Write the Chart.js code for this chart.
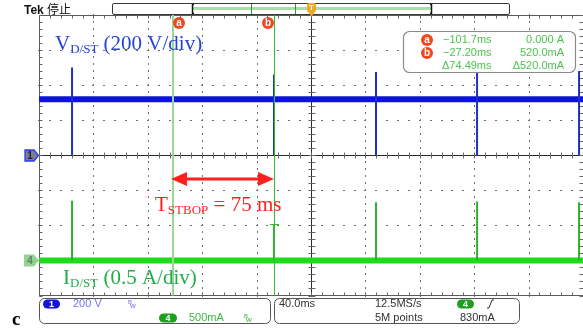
<!DOCTYPE html>
<html>
<head>
<meta charset="utf-8">
<script src="https://cdn.jsdelivr.net/npm/chart.js@4"></script>
<style>
  body { margin: 0; background: #fff; overflow: hidden; }
  canvas { display: block; }
</style>
</head>
<body>
<canvas id="scope" width="583" height="328"></canvas>
<script>
// times in ms (40 ms/div), voltage in V (200 V/div), current in A (0.5 A/div)
const spikeTimes = [-175.7, -27.2, 47.8, 122.1, 197.1];
const vdsLevel = 320;
const vdsPeaks = [500, 460, 475, 470, 480];
const idsLevel = 0;
const idsPeaks = [0.85, 0.52, 0.83, 0.84, 0.83];

const cursorTimes = [-101.7, -27.2];
const cursorAmps = [0.0, 0.52];
const readoutTimes = ['\u2212101.7ms', '\u221227.20ms', '\u039474.49ms'];
const readoutAmps = ['0.000 A', '520.0mA', '\u0394520.0mA'];

const xTicks = [-200, -160, -120, -80, -40, 0, 40, 80, 120, 160, 200];
const vTicks = [-800, -600, -400, -200, 0, 200, 400, 600, 800];

// spike segments, broken with null so each one is its own vertical line
const vdsSpikes = [];
spikeTimes.forEach((t, i) => {
  vdsSpikes.push({x: t, y: vdsPeaks[i]}, {x: t, y: 0}, {x: t, y: null});
});
const idsSpikes = [];
spikeTimes.forEach((t, i) => {
  idsSpikes.push({x: t, y: idsLevel}, {x: t, y: idsPeaks[i]}, {x: t, y: null});
});

function rrect(ctx, x, y, w, h, r) {
  ctx.beginPath();
  ctx.moveTo(x + r, y);
  ctx.lineTo(x + w - r, y);
  ctx.arcTo(x + w, y, x + w, y + r, r);
  ctx.lineTo(x + w, y + h - r);
  ctx.arcTo(x + w, y + h, x + w - r, y + h, r);
  ctx.lineTo(x + r, y + h);
  ctx.arcTo(x, y + h, x, y + h - r, r);
  ctx.lineTo(x, y + r);
  ctx.arcTo(x, y, x + r, y, r);
  ctx.closePath();
}

function subText(ctx, x, y, main, sub, rest, size, subSize, color) {
  ctx.fillStyle = color;
  ctx.textAlign = 'left';
  ctx.textBaseline = 'alphabetic';
  ctx.font = size + 'px "Liberation Serif"';
  ctx.fillText(main, x, y);
  x += ctx.measureText(main).width;
  ctx.font = subSize + 'px "Liberation Serif"';
  ctx.fillText(sub, x, y + 3);
  x += ctx.measureText(sub).width;
  ctx.font = size + 'px "Liberation Serif"';
  ctx.fillText(rest, x, y);
}

function circleLabel(ctx, x, y, ch) {
  ctx.fillStyle = '#f0471c';
  ctx.beginPath();
  ctx.arc(x, y, 6, 0, Math.PI * 2);
  ctx.fill();
  ctx.fillStyle = '#fff';
  ctx.font = 'bold 10px "Liberation Sans"';
  ctx.textAlign = 'center';
  ctx.textBaseline = 'middle';
  ctx.fillText(ch, x, y + 0.5);
}

function pill(ctx, x, y, w, color, ch) {
  ctx.fillStyle = color;
  rrect(ctx, x, y - 4.5, w, 9, 4.5);
  ctx.fill();
  ctx.fillStyle = '#fff';
  ctx.font = 'bold 9px "Liberation Sans"';
  ctx.textAlign = 'center';
  ctx.textBaseline = 'middle';
  ctx.fillText(ch, x + w / 2, y + 0.5);
}

function bwIcon(ctx, x, y, color) {
  ctx.fillStyle = color;
  ctx.textAlign = 'left';
  ctx.textBaseline = 'alphabetic';
  ctx.font = '6px "Liberation Sans"';
  ctx.fillText('B', x, y - 1);
  ctx.font = '8px "Liberation Sans"';
  ctx.fillText('w', x + 2, y + 3);
}

const scopeGrid = {
  id: 'scopeGrid',
  beforeDatasetsDraw(chart) {
    const ctx = chart.ctx;
    const xs = chart.scales.x, ys = chart.scales.y;
    const a = chart.chartArea;
    ctx.save();
    // dotted division lines
    ctx.fillStyle = '#6f6f6f';
    xTicks.forEach(t => {
      if (t === 0 || t === -200 || t === 200) return;
      const px = Math.round(xs.getPixelForValue(t));
      for (let v = -800; v <= 800; v += 40) {
        const py = Math.round(ys.getPixelForValue(v));
        ctx.fillRect(px, py - 1, 1, 2);
      }
    });
    vTicks.forEach(v => {
      if (v === 0 || v === -800 || v === 800) return;
      const py = Math.round(ys.getPixelForValue(v));
      for (let t = -200; t <= 200; t += 8) {
        const px = Math.round(xs.getPixelForValue(t));
        ctx.fillRect(px - 1, py, 2, 1);
      }
    });
    // border and centre lines with minor ticks
    const cx = Math.round(xs.getPixelForValue(0)) + 0.5;
    const cy = Math.round(ys.getPixelForValue(0)) + 0.5;
    const left = Math.round(a.left) + 0.5, top = Math.round(a.top) + 0.5;
    const bottom = Math.round(a.bottom) - 0.5, right = Math.round(a.right) - 1.5;
    ctx.strokeStyle = '#5a5a5a';
    ctx.lineWidth = 1;
    ctx.beginPath();
    ctx.moveTo(left, top); ctx.lineTo(a.right, top);
    ctx.moveTo(left, top); ctx.lineTo(left, bottom + 1);
    ctx.moveTo(left, bottom); ctx.lineTo(a.right, bottom);
    ctx.stroke();
    ctx.strokeStyle = '#2a2a2a';
    ctx.beginPath();
    ctx.moveTo(left, cy); ctx.lineTo(right - 2, cy);
    ctx.moveTo(cx, top); ctx.lineTo(cx, bottom);
    ctx.stroke();
    ctx.strokeStyle = '#666';
    ctx.beginPath();
    for (let t = -200; t <= 200; t += 8) {
      const px = Math.round(xs.getPixelForValue(t)) + 0.5;
      ctx.moveTo(px, cy - 3); ctx.lineTo(px, cy + 3);
      ctx.moveTo(px, top); ctx.lineTo(px, top + 3);
      ctx.moveTo(px, bottom); ctx.lineTo(px, bottom - 3);
    }
    for (let v = -800; v <= 800; v += 40) {
      const py = Math.round(ys.getPixelForValue(v)) + 0.5;
      ctx.moveTo(cx - 3, py); ctx.lineTo(cx + 4, py);
      ctx.moveTo(left, py); ctx.lineTo(left + 3, py);
      ctx.moveTo(right - 2, py); ctx.lineTo(right + 2, py);
    }
    ctx.stroke();
    ctx.restore();
  },
  afterDatasetsDraw(chart) {
    const ctx = chart.ctx;
    const xs = chart.scales.x, ys = chart.scales.y, ya = chart.scales.y2;
    const a = chart.chartArea;
    ctx.save();

    // cursors
    const xa = Math.round(xs.getPixelForValue(cursorTimes[0]));
    const xb = Math.round(xs.getPixelForValue(cursorTimes[1]));
    ctx.fillStyle = '#96d996';
    ctx.fillRect(xa - 1, a.top, 2, a.bottom - a.top);
    ctx.fillStyle = '#2fbf2f';
    ctx.fillRect(xb, a.top, 1, a.bottom - a.top);
    const yb = Math.round(ya.getPixelForValue(cursorAmps[1]));
    ctx.fillRect(xb - 4, yb, 9, 1);
    circleLabel(ctx, xa + 6, 23, 'a');
    circleLabel(ctx, xb - 6, 23, 'b');

    // record view bar at top
    ctx.strokeStyle = '#3a3a3a';
    ctx.lineWidth = 1;
    rrect(ctx, 112.5, 3.5, 397, 11, 1.5);
    ctx.stroke();
    ctx.fillStyle = '#a9dea9';
    ctx.fillRect(193, 7, 238, 3);
    ctx.strokeStyle = '#111';
    ctx.lineWidth = 1.5;
    ctx.beginPath();
    ctx.moveTo(194, 4.5); ctx.lineTo(192.5, 4.5); ctx.lineTo(192.5, 13.5); ctx.lineTo(194, 13.5);
    ctx.moveTo(430, 4.5); ctx.lineTo(431.5, 4.5); ctx.lineTo(431.5, 13.5); ctx.lineTo(430, 13.5);
    ctx.stroke();
    ctx.fillStyle = '#2d9a2d';
    ctx.fillRect(251, 4, 1, 10);
    ctx.fillRect(295, 4, 1, 10);
    // trigger marker
    const tx = Math.round(xs.getPixelForValue(0)) + 0.5;
    ctx.fillStyle = '#f5a623';
    rrect(ctx, tx - 4.5, 3, 9, 9, 2);
    ctx.fill();
    ctx.beginPath();
    ctx.moveTo(tx - 4, 11); ctx.lineTo(tx + 4, 11); ctx.lineTo(tx, 16.5);
    ctx.closePath();
    ctx.fill();
    ctx.fillStyle = '#fff';
    ctx.font = 'bold 8px "Liberation Sans"';
    ctx.textAlign = 'center';
    ctx.textBaseline = 'middle';
    ctx.fillText('T', tx, 8);

    // Tek header
    ctx.fillStyle = '#111';
    ctx.textAlign = 'left';
    ctx.textBaseline = 'alphabetic';
    ctx.font = 'bold 12px "Liberation Sans"';
    ctx.fillText('Tek', 24, 14);
    ctx.font = '12px "Noto Sans CJK SC"';
    ctx.fillText('\u505c\u6b62', 47, 14);

    // cursor readout
    ctx.fillStyle = '#fff';
    rrect(ctx, 403.5, 31.5, 172, 41, 6);
    ctx.fill();
    ctx.strokeStyle = '#8a8a8a';
    ctx.lineWidth = 1.2;
    ctx.stroke();
    circleLabel(ctx, 427, 40, 'a');
    circleLabel(ctx, 427, 53, 'b');
    ctx.fillStyle = '#4cc34c';
    ctx.font = '11px "Liberation Sans"';
    ctx.textBaseline = 'middle';
    readoutTimes.forEach((s, i) => {
      ctx.textAlign = 'left';
      ctx.fillText(s, i === 2 ? 442 : 443, 40 + i * 13);
      ctx.textAlign = 'right';
      ctx.fillText(readoutAmps[i], 564, 40 + i * 13);
    });

    // channel ground markers
    const gy1 = Math.round(ys.getPixelForValue(0)) + 0.5;
    const gy4 = Math.round(ya.getPixelForValue(idsLevel)) + 0.5;
    ctx.beginPath();
    ctx.moveTo(25, gy1 - 5.5); ctx.lineTo(34, gy1 - 5.5); ctx.lineTo(38.5, gy1);
    ctx.lineTo(34, gy1 + 5.5); ctx.lineTo(25, gy1 + 5.5); ctx.closePath();
    ctx.fillStyle = '#7d7d8c';
    ctx.fill();
    ctx.strokeStyle = '#2a3cf0';
    ctx.lineWidth = 1.3;
    ctx.stroke();
    ctx.fillStyle = '#1a1a50';
    ctx.font = 'bold 10px "Liberation Sans"';
    ctx.textAlign = 'center';
    ctx.fillText('1', 30, gy1 + 0.5);
    ctx.beginPath();
    ctx.moveTo(24, gy4 - 6); ctx.lineTo(34, gy4 - 6); ctx.lineTo(38.5, gy4);
    ctx.lineTo(34, gy4 + 6); ctx.lineTo(24, gy4 + 6); ctx.closePath();
    ctx.fillStyle = '#8fd48f';
    ctx.fill();
    ctx.fillStyle = '#6a7a6a';
    ctx.fillText('4', 30, gy4 + 0.5);

    // annotations
    subText(ctx, 55, 50, 'V', 'D/ST', ' (200 V/div)', 21, 13, '#2442dc');
    subText(ctx, 63, 284, 'I', 'D/ST', ' (0.5 A/div)', 21, 13, '#1fae48');
    subText(ctx, 155, 211, 'T', 'STBOP', ' = 75 ms', 21, 13, '#ff1f1f');
    // period arrow between the cursors
    const ay = 179;
    ctx.strokeStyle = '#ff1f1f';
    ctx.fillStyle = '#ff1f1f';
    ctx.lineWidth = 3;
    ctx.beginPath();
    ctx.moveTo(xa + 12, ay); ctx.lineTo(xb - 12, ay);
    ctx.stroke();
    ctx.beginPath();
    ctx.moveTo(xa - 2, ay); ctx.lineTo(xa + 14, ay - 7); ctx.lineTo(xa + 14, ay + 7);
    ctx.closePath(); ctx.fill();
    ctx.beginPath();
    ctx.moveTo(xb, ay); ctx.lineTo(xb - 16, ay - 7); ctx.lineTo(xb - 16, ay + 7);
    ctx.closePath(); ctx.fill();

    // bottom status boxes
    ctx.strokeStyle = '#555';
    ctx.lineWidth = 1;
    rrect(ctx, 39.5, 298.5, 231, 25, 5);
    ctx.stroke();
    rrect(ctx, 274.5, 298.5, 245, 25, 5);
    ctx.stroke();
    pill(ctx, 43, 304, 17, '#1414dc', '1');
    ctx.textAlign = 'left';
    ctx.textBaseline = 'middle';
    ctx.font = '11px "Liberation Sans"';
    ctx.fillStyle = '#7373ee';
    ctx.fillText('200 V', 73, 304);
    bwIcon(ctx, 128, 305, '#7373ee');
    pill(ctx, 159, 318, 18, '#1f9f1f', '4');
    ctx.textAlign = 'left';
    ctx.textBaseline = 'middle';
    ctx.font = '11px "Liberation Sans"';
    ctx.fillStyle = '#3db43d';
    ctx.fillText('500mA', 189, 318);
    bwIcon(ctx, 244, 319, '#3db43d');
    ctx.textAlign = 'left';
    ctx.textBaseline = 'middle';
    ctx.font = '11px "Liberation Sans"';
    ctx.fillStyle = '#333';
    ctx.fillText('40.0ms', 279, 304);
    ctx.fillText('12.5MS/s', 375, 304);
    ctx.fillText('5M points', 375, 318);
    ctx.fillText('830mA', 460, 318);
    pill(ctx, 457, 304, 17, '#1f9f1f', '4');
    ctx.strokeStyle = '#333';
    ctx.lineWidth = 1;
    ctx.beginPath();
    ctx.moveTo(487, 308); ctx.lineTo(489, 308); ctx.lineTo(492, 300); ctx.lineTo(494, 300);
    ctx.stroke();

    // panel letter
    ctx.fillStyle = '#000';
    ctx.textAlign = 'left';
    ctx.textBaseline = 'alphabetic';
    ctx.font = 'bold 19px "Liberation Serif"';
    ctx.fillText('c', 12, 325);
    ctx.restore();
  }
};

new Chart(document.getElementById('scope'), {
  type: 'scatter',
  data: {
    datasets: [
      {
        label: 'VD/ST spikes', data: vdsSpikes, yAxisID: 'y',
        showLine: true, spanGaps: false, borderColor: '#1f2fc4', borderWidth: 2, pointRadius: 0
      },
      {
        label: 'ID/ST spikes', data: idsSpikes, yAxisID: 'y2',
        showLine: true, spanGaps: false, borderColor: '#30b030', borderWidth: 2, pointRadius: 0
      },
      {
        label: 'VD/ST', data: [{x: -200, y: vdsLevel}, {x: 200, y: vdsLevel}], yAxisID: 'y',
        showLine: true, borderColor: '#0c12e2', borderWidth: 6, pointRadius: 0
      },
      {
        label: 'ID/ST', data: [{x: -200, y: idsLevel}, {x: 200, y: idsLevel}], yAxisID: 'y2',
        showLine: true, borderColor: '#1cdc1c', borderWidth: 6, pointRadius: 0
      }
    ]
  },
  options: {
    responsive: false,
    devicePixelRatio: 1,
    animation: false,
    events: [],
    layout: { padding: { left: 39, right: 0, top: 15, bottom: 32.5 } },
    plugins: { legend: { display: false }, tooltip: { enabled: false } },
    scales: {
      x: { type: 'linear', min: -200, max: 200, display: false },
      y: { type: 'linear', min: -800, max: 800, display: false },
      y2: { type: 'linear', min: -0.5, max: 3.5, display: false }
    }
  },
  plugins: [scopeGrid]
});
</script>
</body>
</html>
